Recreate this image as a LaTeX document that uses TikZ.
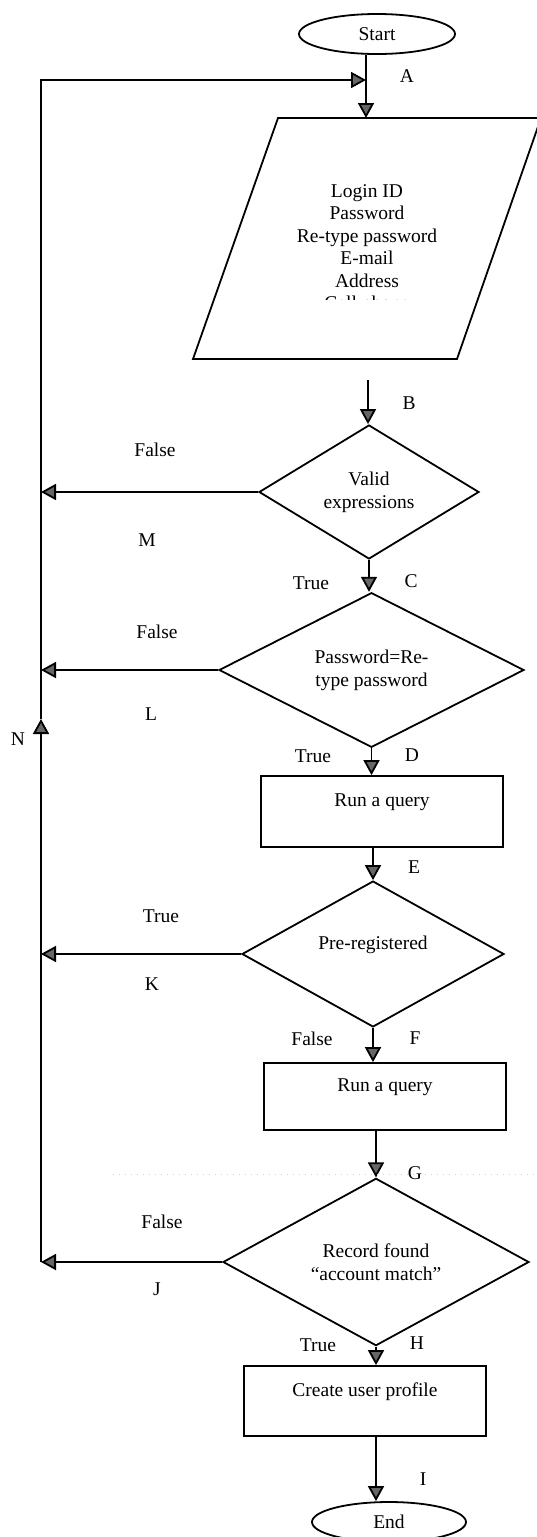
\documentclass[tikz,border=0pt]{standalone}
\usepackage{fontspec}
\setmainfont{Liberation Serif}
\usetikzlibrary{shapes.geometric,arrows.meta}
\begin{document}
\begin{tikzpicture}[x=1pt,y=-1pt,
  font=\fontsize{19.5}{23}\selectfont,
  line width=1.8pt,
  flow/.style={-{Triangle[length=15pt,width=16pt,fill=black!60]}},
  term/.style={draw,ellipse,inner sep=0pt,minimum width=156pt,minimum height=40pt},
  decision/.style={draw,diamond,inner sep=0pt,align=center},
  process/.style={draw,rectangle,inner sep=0pt,align=center,minimum width=242pt},
  lab/.style={inner sep=0pt}
]
\useasboundingbox (0,0) rectangle (537,1537);

% terminators
\node[term] (start) at (377,34) {Start};
\node[term,minimum width=154pt] (end) at (389,1522) {End};

% input form (parallelogram) with its field list
\coordinate (fTL) at (278,118);
\coordinate (fTR) at (541,118);
\coordinate (fBR) at (457,359);
\coordinate (fBL) at (193,359);
\coordinate (formtop) at (366,118);
\coordinate (formout) at (368,380);
\draw (fTL) -- (fTR) -- (fBR) -- (fBL) -- cycle;
\begin{scope}
  \clip (150,118) rectangle (480,299.8);
  \node[align=center,inner sep=0pt,font=\fontsize{19.5}{22.5}\selectfont] (formtext) at (367,249.3)
    {Login ID\\Password\\Re-type password\\E-mail\\Address\\Cell phone};
\end{scope}

% decisions
\node[decision,minimum width=220pt,minimum height=134pt] (d1) at (369,492) {Valid\\expressions};
\node[decision,minimum width=305pt,minimum height=128pt] (d2) at (371.5,670) {Password=Re-\\type password};
\node[decision,minimum width=262pt,minimum height=126pt] (d3) at (373,954) {Pre-registered\\\mbox{}};
\node[decision,minimum width=306pt,minimum height=125pt] (d4) at (376,1262) {Record found\\``account match''};

% processes
\node[process,minimum height=71pt] (q1) at (382,811.5) {Run a query\\\mbox{}};
\node[process,minimum height=67pt] (q2) at (385,1096.5) {Run a query\\\mbox{}};
\node[process,minimum height=70pt] (prof) at (365,1401) {Create user profile\\\mbox{}};

% main flow
\draw[flow] (start.south -| formtop) -- (formtop);
\draw[flow] (formout) -- (formout |- d1.north);
\draw[flow] (d1.south) -- (d1.south |- d2.north);
\draw[flow] (d2.south) -- (d2.south |- q1.north);
\draw[flow] (d3.north |- q1.south) -- (d3.north);
\draw[flow] (d3.south) -- (d3.south |- q2.north);
\draw[flow] (d4.north |- q2.south) -- (d4.north);
\draw[flow] (d4.south) -- (d4.south |- prof.north);
\draw[flow] (d4.south |- prof.south) -- (d4.south |- end.north);

% return path
\coordinate (ntop) at (41,80);
\coordinate (nmid) at (41,719);
\draw[flow] (d1.west) -- (d1.west -| ntop);
\draw[flow] (d2.west) -- (d2.west -| ntop);
\draw[flow] (d3.west) -- (d3.west -| ntop);
\draw[flow] (d4.west) -- (d4.west -| ntop);
\draw[flow] (d4.west -| ntop) -- (nmid);
\draw[flow] (nmid) -- (ntop) -- (formtop |- ntop);

% faint dotted rule
\draw[gray!35,line width=0.6pt,dash pattern=on 1pt off 5pt] (113,1174) -- (537,1174);

% point labels
\node[lab] (lA) at (407,76) {A};
\node[lab] (lB) at (409,403) {B};
\node[lab] (lC) at (411,581) {C};
\node[lab] (lD) at (412,755) {D};
\node[lab] (lE) at (414,867) {E};
\node[lab] (lF) at (415,1038) {F};
\node[lab] (lG) at (415,1173) {G};
\node[lab] (lH) at (417,1343) {H};
\node[lab] (lI) at (423,1479) {I};
\node[lab] (lJ) at (157,1289) {J};
\node[lab] (lK) at (152,984) {K};
\node[lab] (lL) at (151,714) {L};
\node[lab] (lM) at (147,540) {M};
\node[lab] (lN) at (18,739) {N};

% branch labels
\node[lab] (f1) at (155,450) {False};
\node[lab] (t1) at (311,583) {True};
\node[lab] (f2) at (157,632) {False};
\node[lab] (t2) at (313,756) {True};
\node[lab] (t3) at (161,916) {True};
\node[lab] (f3) at (312,1039) {False};
\node[lab] (f4) at (162,1222) {False};
\node[lab] (t4) at (318,1345) {True};
\end{tikzpicture}
\end{document}
